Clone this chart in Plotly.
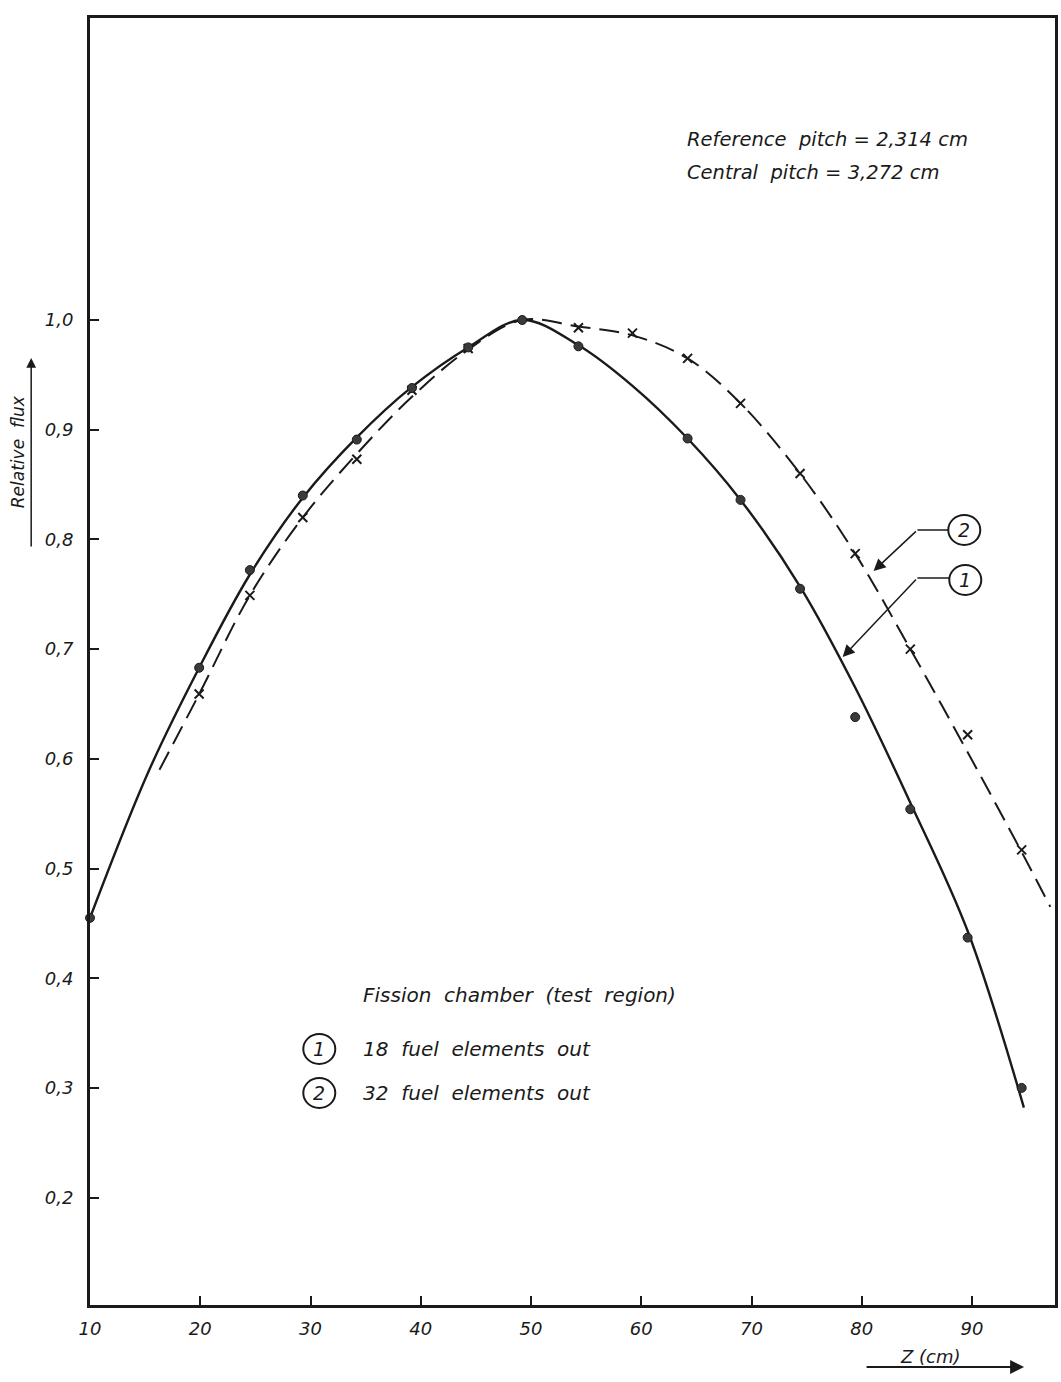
import plotly.graph_objects as go

# ---- data ----
z_s1 = [10, 19.9, 24.5, 29.3, 34.2, 39.2, 44.3, 49.2, 54.3, 64.2, 69.0, 74.4, 79.4, 84.4, 89.6, 94.5]
flux_s1 = [0.455, 0.683, 0.772, 0.840, 0.891, 0.938, 0.975, 1.000, 0.976, 0.892, 0.836, 0.755, 0.638, 0.554, 0.437, 0.300]

z_s2 = [19.9, 24.5, 29.3, 34.2, 39.2, 44.3, 54.3, 59.2, 64.2, 69.0, 74.4, 79.4, 84.4, 89.6, 94.5]
flux_s2 = [0.659, 0.749, 0.820, 0.873, 0.936, 0.974, 0.993, 0.988, 0.965, 0.924, 0.860, 0.787, 0.700, 0.622, 0.517]

# hand-drawn fitted curves
z_c1 = [10, 15.2, 19.9, 24.5, 29.3, 34.2, 39.2, 44.3, 49.2, 54.3, 59.2, 64.2, 69.0, 74.4, 79.4, 84.4, 89.6, 94.7]
flux_c1 = [0.455, 0.586, 0.683, 0.768, 0.838, 0.893, 0.939, 0.975, 1.000, 0.977, 0.940, 0.892, 0.836, 0.757, 0.665, 0.560, 0.443, 0.282]

z_c2 = [16.3, 19.9, 24.5, 29.3, 34.2, 39.2, 44.3, 49.2, 54.3, 59.2, 64.2, 69.0, 74.4, 79.4, 84.4, 89.6, 94.5, 97.1]
flux_c2 = [0.590, 0.659, 0.749, 0.820, 0.878, 0.930, 0.973, 1.000, 0.994, 0.986, 0.965, 0.924, 0.860, 0.787, 0.700, 0.606, 0.515, 0.465]

x_ticks = [10, 20, 30, 40, 50, 60, 70, 80, 90]
y_ticks = [0.2, 0.3, 0.4, 0.5, 0.6, 0.7, 0.8, 0.9, 1.0]

INK = "#1a1a1a"
FONT = "DejaVu Sans"
NB = "\u00a0"

fig = go.Figure()
fig.add_trace(go.Scatter(x=z_c1, y=flux_c1, mode="lines",
                         line=dict(color=INK, width=2.4, shape="spline", smoothing=1.0),
                         showlegend=False, hoverinfo="skip"))
fig.add_trace(go.Scatter(x=z_c2, y=flux_c2, mode="lines",
                         line=dict(color=INK, width=2, dash="20px,9px", shape="spline", smoothing=1.0),
                         showlegend=False, hoverinfo="skip"))
fig.add_trace(go.Scatter(x=z_s2, y=flux_s2, mode="markers",
                         marker=dict(symbol="x-thin", size=9, line=dict(color=INK, width=2)),
                         showlegend=False, cliponaxis=False))
fig.add_trace(go.Scatter(x=z_s1, y=flux_s1, mode="markers",
                         marker=dict(symbol="circle", size=9, color="#3a3a3a", line=dict(color=INK, width=1)),
                         showlegend=False, cliponaxis=False))


def tx(px):
    return 10 + (px - 90) / 11.06


def ty(py):
    return 1 - (py - 320) / 1097.0


def py_paper(py):
    return (1305 - py) / 1287.0


annos = []
topfont = dict(family=FONT, size=19.5, color=INK, style="italic")
legfont = dict(family=FONT, size=20, color=INK, style="italic")
annos.append(dict(x=tx(687), y=ty(139), xref="x", yref="y", text="Reference" + NB * 2 + "pitch = 2,314 cm",
                  showarrow=False, xanchor="left", yanchor="middle", font=topfont))
annos.append(dict(x=tx(687), y=ty(172), xref="x", yref="y", text="Central" + NB * 2 + "pitch = 3,272 cm",
                  showarrow=False, xanchor="left", yanchor="middle", font=topfont))
annos.append(dict(x=tx(362), y=ty(995), xref="x", yref="y",
                  text=(NB * 2).join(["Fission", "chamber", "(test", "region)"]),
                  showarrow=False, xanchor="left", yanchor="middle", font=legfont))
annos.append(dict(x=tx(362), y=ty(1049), xref="x", yref="y",
                  text=(NB * 2).join(["18", "fuel", "elements", "out"]),
                  showarrow=False, xanchor="left", yanchor="middle", font=legfont))
annos.append(dict(x=tx(362), y=ty(1093), xref="x", yref="y",
                  text=(NB * 2).join(["32", "fuel", "elements", "out"]),
                  showarrow=False, xanchor="left", yanchor="middle", font=legfont))

# circled numbers
circ = [(320, 1049, "1"), (320, 1093, "2"), (967, 530, "2"), (968, 580, "1")]
shapes = []
for cx, cy, lab in circ:
    shapes.append(dict(type="circle", xref="x", yref="y", xsizemode="pixel", ysizemode="pixel",
                       xanchor=tx(cx), yanchor=ty(cy), x0=-16, x1=16, y0=-15, y1=15,
                       line=dict(color=INK, width=2)))
    annos.append(dict(x=tx(cx), y=ty(cy), xref="x", yref="y", text=lab, showarrow=False,
                      font=dict(family=FONT, size=19, color=INK, style="italic")))

# leader lines
shapes.append(dict(type="line", xref="x", yref="y", x0=tx(951), y0=ty(530), x1=tx(920), y1=ty(530),
                   line=dict(color=INK, width=1.5)))
shapes.append(dict(type="line", xref="x", yref="y", x0=tx(952), y0=ty(578), x1=tx(920), y1=ty(578),
                   line=dict(color=INK, width=1.5)))
annos.append(dict(x=tx(876), y=ty(571), xref="x", yref="y", ax=tx(920), ay=ty(530), axref="x", ayref="y",
                  text="", showarrow=True, arrowhead=2, arrowsize=1.6, arrowwidth=1.5, arrowcolor=INK))
annos.append(dict(x=tx(845), y=ty(657), xref="x", yref="y", ax=tx(920), ay=ty(578), axref="x", ayref="y",
                  text="", showarrow=True, arrowhead=2, arrowsize=1.6, arrowwidth=1.5, arrowcolor=INK))

# axis titles with arrows
annos.append(dict(x=(18 - 90) / 968.0, y=ty(452), xref="paper", yref="y", text="Relative" + NB * 2 + "flux",
                  textangle=-90, xanchor="center", yanchor="middle", showarrow=False,
                  font=dict(family=FONT, size=17, color=INK, style="italic")))
annos.append(dict(x=(31 - 90) / 968.0, y=ty(358), xref="paper", yref="y", ax=0, ay=190, text="", showarrow=True,
                  arrowhead=2, arrowsize=1.3, arrowwidth=1.5, arrowcolor=INK))
annos.append(dict(x=tx(933), y=py_paper(1356), xref="x", yref="paper", text="Z (cm)", showarrow=False,
                  xanchor="center", yanchor="middle",
                  font=dict(family=FONT, size=18, color=INK, style="italic")))
annos.append(dict(x=tx(1027), y=py_paper(1367), xref="x", yref="paper", ax=-159, ay=0, text="", showarrow=True,
                  arrowhead=2, arrowsize=1.4, arrowwidth=2, arrowcolor=INK))

fig.update_layout(
    width=1061, height=1382,
    margin=dict(l=90, r=3, t=18, b=77),
    paper_bgcolor="white", plot_bgcolor="white",
    separators=",.",
    font=dict(family=FONT, color=INK),
    annotations=annos, shapes=shapes,
    xaxis=dict(range=[10, tx(1058)], tickvals=x_ticks, ticks="inside", ticklen=9, tickwidth=1.5, tickcolor=INK,
               showline=True, linewidth=3, linecolor=INK, mirror=True, showgrid=False, zeroline=False,
               ticklabelstandoff=5,
               tickfont=dict(family=FONT, size=18, color=INK, style="italic")),
    yaxis=dict(range=[ty(1305), ty(18)], tickvals=y_ticks, tickformat=".1f", ticks="inside", ticklen=9,
               tickwidth=1.5, tickcolor=INK, showline=True, linewidth=3, linecolor=INK, mirror=True,
               showgrid=False, zeroline=False, ticklabelstandoff=10,
               tickfont=dict(family=FONT, size=18, color=INK, style="italic")),
)

fig.write_html("out.html")
